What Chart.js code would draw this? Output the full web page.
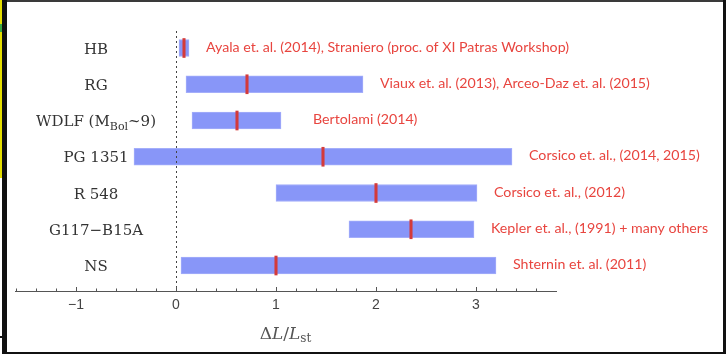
<!DOCTYPE html>
<html>
<head>
<meta charset="utf-8">
<script src="https://cdn.jsdelivr.net/npm/chart.js@4"></script>
<style>
  html, body { margin: 0; padding: 0; background: #fff; }
  #frame { position: relative; width: 726px; height: 354px; overflow: hidden; background: #fff; }
  #frame canvas { position: absolute; left: 0; top: 0; }
  .edge { position: absolute; }
</style>
</head>
<body>
<div id="frame">
  <canvas id="deltaChart" width="726" height="354"></canvas>
  <div class="edge" style="left:7px; top:0; width:719px; height:2px; background:#3a3a3a"></div>
  <div class="edge" style="left:2px; top:0; width:5px; height:354px; background:#111"></div>
  <div class="edge" style="left:0; top:0; width:2px; height:178px; background:#e4de00"></div>
  <div class="edge" style="left:0; top:24px; width:2px; height:8px; background:#3aa845"></div>
  <div class="edge" style="left:0; top:336px; width:2px; height:2px; background:#111"></div>
  <div class="edge" style="left:723px; top:0; width:3px; height:354px; background:#111"></div>
  <div class="edge" style="left:2px; top:352px; width:724px; height:2px; background:#111"></div>
</div>
<script>
// objects, row 0 is the top row
const stars = ['HB', 'RG', 'WDLF (M_{Bol}~9)', 'PG 1351', 'R 548', 'G117\u2212B15A', 'NS'];
// allowed range of the extra luminosity and the central estimate
const lower = [0.03, 0.10, 0.16, -0.42, 1.00, 1.73, 0.05];
const upper = [0.13, 1.87, 1.05, 3.36, 3.01, 2.98, 3.20];
const central = [0.08, 0.71, 0.61, 1.47, 2.00, 2.35, 1.00];
const references = [
    'Ayala et. al. (2014), Straniero (proc. of XI Patras Workshop)',
    'Viaux et. al. (2013), Arceo-Daz et. al. (2015)',
    'Bertolami (2014)',
    'Corsico et. al., (2014, 2015)',
    'Corsico et. al., (2012)',
    'Kepler et. al., (1991) + many others',
    'Shternin et. al. (2011)'
];
const xTicks = [-1, 0, 1, 2, 3];

const markerHalf = 0.012;
const labelFont = '15px "DejaVu Serif"';
const labelSubFont = '11px "DejaVu Serif"';
const refFont = '14.2px Lato';

// draws text with _{...} parts as subscripts, centred on cx
function drawRich(ctx, text, cx, cy, font, subFont, color) {
    const parts = [];
    const re = /_\{([^}]*)\}/g;
    let last = 0, m;
    while ((m = re.exec(text)) !== null) {
        if (m.index > last) parts.push({ t: text.slice(last, m.index), sub: false });
        parts.push({ t: m[1], sub: true });
        last = re.lastIndex;
    }
    if (last < text.length) parts.push({ t: text.slice(last), sub: false });
    let width = 0;
    parts.forEach(p => {
        ctx.font = p.sub ? subFont : font;
        p.w = ctx.measureText(p.t).width;
        width += p.w;
    });
    let x = cx - width / 2;
    ctx.fillStyle = color;
    ctx.textAlign = 'left';
    ctx.textBaseline = 'alphabetic';
    parts.forEach(p => {
        ctx.font = p.sub ? subFont : font;
        ctx.fillText(p.t, x, cy + (p.sub ? 3.5 : 0));
        x += p.w;
    });
}

const decorations = {
    id: 'decorations',
    afterDraw(chart) {
        const ctx = chart.ctx;
        const xs = chart.scales.x;
        const ys = chart.scales.y;
        const area = chart.chartArea;
        ctx.save();

        // dashed line at zero
        const x0 = Math.round(xs.getPixelForValue(0)) + 0.5;
        ctx.strokeStyle = '#444';
        ctx.lineWidth = 1;
        ctx.setLineDash([2, 3]);
        ctx.beginPath();
        ctx.moveTo(x0, area.top);
        ctx.lineTo(x0, area.bottom);
        ctx.stroke();
        ctx.setLineDash([]);

        // inward tick marks, minor every 0.2
        ctx.strokeStyle = '#555';
        for (let k = Math.ceil(xs.min / 0.2); k * 0.2 <= xs.max; k++) {
            const v = k * 0.2;
            const major = k % 5 === 0;
            const px = Math.round(xs.getPixelForValue(v)) + 0.5;
            ctx.beginPath();
            ctx.moveTo(px, area.bottom);
            ctx.lineTo(px, area.bottom - (major ? 4 : 2.5));
            ctx.stroke();
        }

        // row names
        stars.forEach((s, i) => {
            const py = ys.getPixelForValue(i);
            drawRich(ctx, s, 96, py + 5.5, labelFont, labelSubFont, '#333');
        });

        // references next to each bar
        ctx.font = refFont;
        ctx.fillStyle = '#e8453f';
        ctx.textAlign = 'left';
        ctx.textBaseline = 'middle';
        references.forEach((r, i) => {
            const px = xs.getPixelForValue(upper[i]) + (i === 2 ? 32 : 17);
            ctx.fillText(r, px, ys.getPixelForValue(i) - 1);
        });

        // axis title
        const tx = (area.left + area.right) / 2;
        const ty = 339;
        const segs = [
            { t: '\u0394', f: '17px "DejaVu Serif"', dy: 0 },
            { t: 'L', f: 'italic 17px "DejaVu Serif"', dy: 0 },
            { t: '/', f: '17px "DejaVu Serif"', dy: 0 },
            { t: 'L', f: 'italic 17px "DejaVu Serif"', dy: 0 },
            { t: 'st', f: '12px "DejaVu Serif"', dy: 3 }
        ];
        let tw = 0;
        segs.forEach(s => { ctx.font = s.f; s.w = ctx.measureText(s.t).width; tw += s.w; });
        let cx = tx - tw / 2;
        ctx.fillStyle = '#555';
        ctx.textBaseline = 'alphabetic';
        segs.forEach(s => { ctx.font = s.f; ctx.fillText(s.t, cx, ty + s.dy); cx += s.w; });

        ctx.restore();
    }
};

const ctx = document.getElementById('deltaChart').getContext('2d');
new Chart(ctx, {
    type: 'bar',
    data: {
        datasets: [
            {
                label: 'central',
                data: stars.map((s, i) => ({ x: [central[i] - markerHalf, central[i] + markerHalf], y: i })),
                backgroundColor: '#d43a3a',
                barThickness: 19,
                grouped: false,
                order: 0
            },
            {
                label: 'range',
                data: stars.map((s, i) => ({ x: [lower[i], upper[i]], y: i })),
                backgroundColor: '#8896f8',
                borderColor: '#a4aefa',
                borderWidth: 1,
                borderSkipped: false,
                barThickness: 17,
                grouped: false,
                order: 1
            }
        ]
    },
    options: {
        indexAxis: 'y',
        responsive: false,
        devicePixelRatio: 1,
        animation: false,
        layout: { padding: { left: 15, right: 170, top: 31, bottom: 0 } },
        plugins: {
            legend: { display: false },
            tooltip: { enabled: false }
        },
        scales: {
            x: {
                type: 'linear',
                min: -1.61,
                max: 3.8,
                grid: { display: false, drawTicks: false, tickLength: 0 },
                border: { display: true, color: '#555', width: 1 },
                ticks: {
                    stepSize: 1,
                    includeBounds: false,
                    padding: 6,
                    color: '#444',
                    font: { family: '"Liberation Sans"', size: 14 },
                    callback: v => xTicks.includes(v) ? String(v).replace('-', '\u2212') : ''
                },
                afterFit: s => { s.height = 63; }
            },
            y: {
                type: 'linear',
                reverse: true,
                offset: false,
                min: -0.469,
                max: 6.703,
                display: false
            }
        }
    },
    plugins: [decorations]
});
</script>
</body>
</html>
